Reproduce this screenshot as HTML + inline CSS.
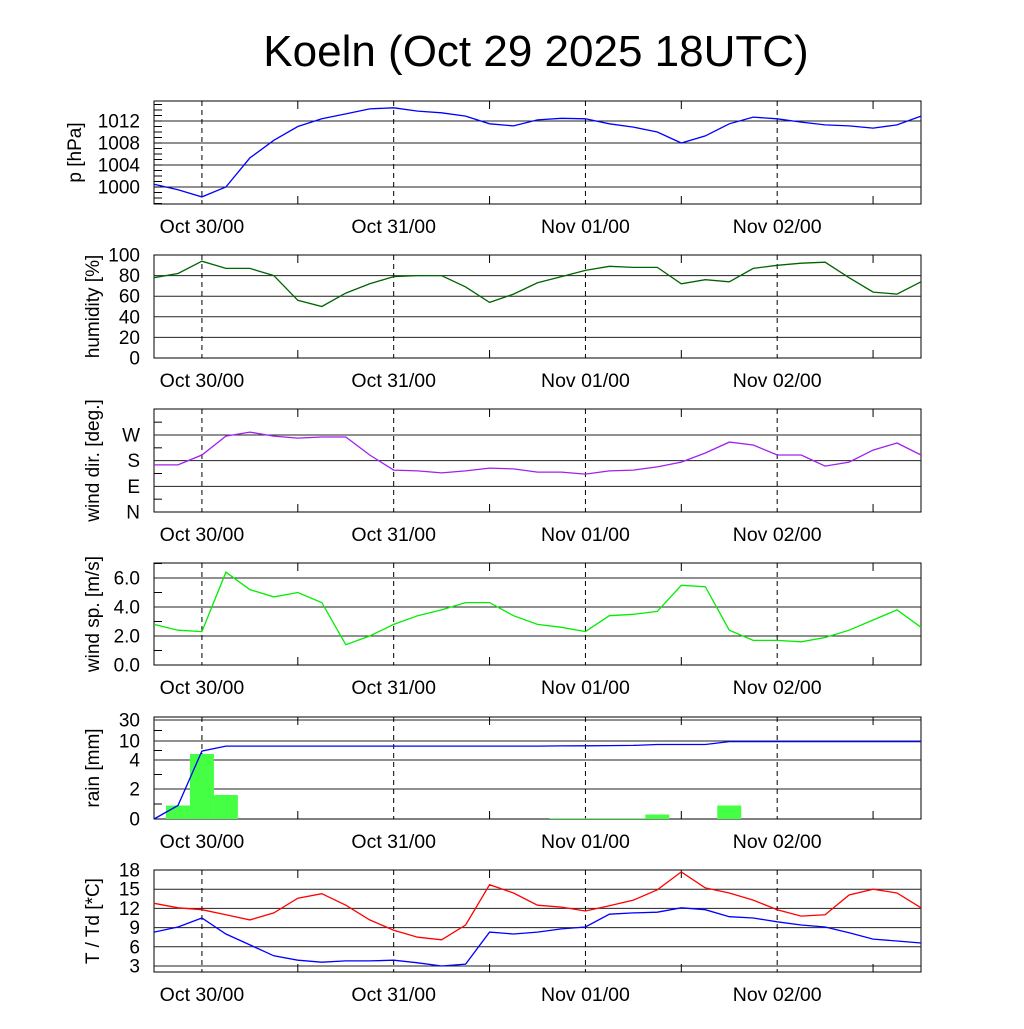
<!DOCTYPE html>
<html><head><meta charset="utf-8"><style>
body{margin:0;background:#fff;width:1024px;height:1024px;overflow:hidden}
svg{font-family:"Liberation Sans",sans-serif}
</style></head><body>
<svg id="c" width="1024" height="1024">
<text x="536" y="66" font-size="44" text-anchor="middle">Koeln (Oct 29 2025 18UTC)</text>
</svg>
<script>
const days=["Oct 30/00","Oct 31/00","Nov 01/00","Nov 02/00"];
const pressure=[1000.5,999.5,998.2,1000,1005.3,1008.5,1011,1012.4,1013.3,1014.2,1014.4,1013.8,1013.5,1012.9,1011.5,1011.1,1012.2,1012.5,1012.4,1011.5,1010.9,1010,1008,1009.3,1011.5,1012.7,1012.4,1011.8,1011.3,1011.1,1010.7,1011.3,1012.9];
const humidity=[78,82,94,87,87,80,56,50,63,72,79,80,80,69,54,62,73,79,85,89,88,88,72,76,74,87,90,92,93,78,64,62,74];
const windDir=[165,165,200,266,280,266,259,263,263,200,147,144,137,144,154,151,140,140,133,144,147,158,175,207,245,235,200,200,161,175,217,242,200];
const windSpeed=[2.8,2.4,2.3,6.4,5.2,4.7,5.0,4.3,1.4,2.0,2.8,3.4,3.8,4.3,4.3,3.4,2.8,2.6,2.3,3.4,3.5,3.7,5.5,5.4,2.4,1.7,1.7,1.6,1.9,2.4,3.1,3.8,2.6];
const rainBars=[0,0.9,5.9,1.6,0,0,0,0,0,0,0,0,0,0,0,0,0,0.05,0.05,0.05,0.05,0.3,0,0,0.9,0,0,0,0,0,0,0,0];
const temp=[12.8,12.1,11.8,11,10.2,11.3,13.6,14.3,12.5,10.2,8.6,7.5,7.1,9.4,15.7,14.4,12.5,12.2,11.6,12.4,13.3,14.9,17.7,15.2,14.4,13.3,11.8,10.8,11,14.1,15,14.4,12.1];
const dew=[8.3,9.1,10.5,8,6.3,4.6,3.9,3.6,3.8,3.8,3.9,3.5,3,3.3,8.3,8,8.3,8.8,9.1,11.1,11.3,11.4,12.1,11.8,10.7,10.5,9.9,9.4,9.1,8.2,7.2,6.9,6.6];
const presTicks=[1000,1004,1008,1012];
const humTicks=[0,20,40,60,80,100];
const dirTicks=["N","E","S","W"];
const spTicks=["0.0","2.0","4.0","6.0"];
const rainTicks=[0,2,4,10,30];
const tTicks=[3,6,9,12,15,18];

const NS="http://www.w3.org/2000/svg",svg=document.getElementById('c');
const X0=154,X1=921;
const xs=t=>X0+t*(X1-X0)/32;
function el(tag,a,txt){const e=document.createElementNS(NS,tag);for(const k in a)e.setAttribute(k,a[k]);if(txt!==undefined)e.textContent=txt;svg.appendChild(e);return e;}
function panel(key,top,bot,ticks,labelFn,yFn,ylabel,minor,titleX){
  const g=el('rect',{x:X0,y:top,width:X1-X0,height:bot-top,fill:'none',stroke:'#000','stroke-width':1});
  
  
  ticks.forEach((v,i)=>{const y=yFn(v);
    if(y>top+1&&y<bot-1){const l=el('line',{x1:X0,x2:X1,y1:y,y2:y,stroke:'#222','stroke-width':1});
    
    }
    const t=el('text',{x:X0-14,y:y+6.5,'font-size':19,'text-anchor':'end'},labelFn(v,i));
    
    });
  (minor||[]).forEach(v=>{const y=yFn(v);const l=el('line',{x1:X0,x2:X0+8,y1:y,y2:y,stroke:'#000'});
    
    });
  for(let d=0;d<4;d++){const x=xs(2+8*d);
    const l=el('line',{x1:x,x2:x,y1:top,y2:bot,stroke:'#000','stroke-dasharray':'5,4'});
    
    
    const xm=xs(6+8*d);
    const m1=el('line',{x1:xm,x2:xm,y1:bot,y2:bot-8,stroke:'#000'});
    
    
    const m2=el('line',{x1:xm,x2:xm,y1:top,y2:top+8,stroke:'#000'});
    
    
    const t=el('text',{x:x,y:bot+29,'font-size':19.5,'text-anchor':'middle'},days[d]);
    
    }
  const yl=el('text',{x:0,y:0,'font-size':19,'text-anchor':'middle',transform:`translate(${titleX||99},${(top+bot)/2}) rotate(-90)`},ylabel);
  
  
}
function line(key,arr,yFn,color){
  const p=arr.map((v,i)=>(i?'L':'M')+xs(i).toFixed(1)+' '+yFn(v).toFixed(1)).join(' ');
  const e=el('path',{d:p,fill:'none',stroke:color,'stroke-width':1.3});
  
  
}
const yP=v=>187-(v-1000)*5.5;
const pm=[];for(let v=997;v<=1015;v++)pm.push(v);
panel('pressure',101,204,presTicks,v=>v,yP,'p [hPa]',pm,81);
line('pressure',pressure,yP,'#0000ff');
const yH=v=>358-v*1.03;
panel('humidity',255,358,humTicks,v=>v,yH,'humidity [%]');
line('humidity',humidity,yH,'#006400');
const yD=v=>512-v*0.2852;
panel('wind-dir',409,512,[0,90,180,270],(v,i)=>dirTicks[i],yD,'wind dir. [deg.]',[45,135,225,315]);
line('wind-dir',windDir,yD,'#a020f0');
const yS=v=>665-v*14.5;
panel('wind-speed',563,665,[0,2,4,6],(v,i)=>spTicks[i],yS,'wind sp. [m/s]',[1,3,5,7]);
line('wind-speed',windSpeed,yS,'#00ee00');
const rv=[0,2,4,10,30],ry=[819,789,760,741,720];
const yR=v=>{for(let i=1;i<rv.length;i++){if(v<=rv[i])return ry[i-1]+(v-rv[i-1])/(rv[i]-rv[i-1])*(ry[i]-ry[i-1]);}return 720;};
panel('rain',717,819,rainTicks,v=>v,yR,'rain [mm]',[1,3,7,20]);
rainBars.forEach((v,i)=>{if(v<=0)return;const w=(X1-X0)/32;
  const b=el('rect',{x:xs(i)-w/2,y:yR(v),width:w,height:819-yR(v),fill:'#44ff44'});
  
  });
let s=0;const cum=rainBars.map(v=>(s+=v));
line('rain-cumulative',cum,yR,'#0000ff');
const yT=v=>966-(v-3)*6.4;
panel('temperature',870,972,tTicks,v=>v,yT,'T / Td [*C]');
line('temperature',temp,yT,'#ff0000');
line('dewpoint',dew,yT,'#0000ff');
</script>
</body></html>
